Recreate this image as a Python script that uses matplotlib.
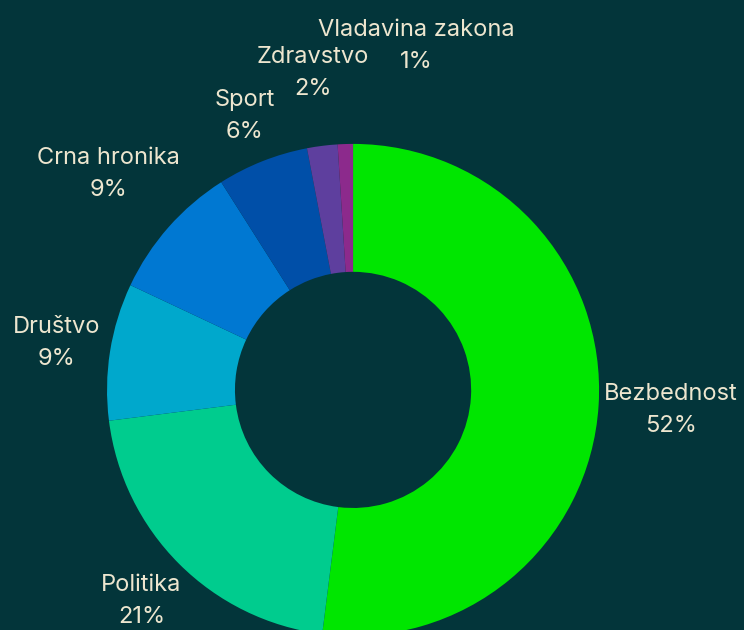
import numpy as np
import matplotlib.pyplot as plt

# podaci
kategorije = ["Bezbednost", "Politika", "Društvo", "Crna hronika", "Sport", "Zdravstvo", "Vladavina zakona"]
procenti = [52, 21, 9, 9, 6, 2, 1]
boje = ["#00e600", "#00cc8e", "#00a8cc", "#0078d2", "#004fa8", "#5e3f9e", "#8c2a8c"]

# razmak labela od centra (u poluprecnicima) i pomak za najmanju kriskicu
razmak = [1.295, 1.216, 1.22, 1.327, 1.196, 1.297, 1.40]
pomak_x = [0, 0, 0, 0, 0, 0, 0.30]

pozadina = "#03353a"
tekst = "#ede6cf"

fig = plt.figure(figsize=(7.44, 6.3), dpi=100, facecolor=pozadina)
ax = fig.add_axes([0, 0, 1, 1])
ax.set_facecolor(pozadina)

wedges, _ = ax.pie(procenti, colors=boje, startangle=90, counterclock=False,
                   radius=1.0, wedgeprops=dict(width=0.52, linewidth=0))

# labele: ime iznad, procenat ispod
ukupno = sum(procenti)
pocetak = 90.0
for i, (ime, p) in enumerate(zip(kategorije, procenti)):
    sredina = pocetak - 360.0 * p / ukupno / 2
    pocetak -= 360.0 * p / ukupno
    ugao = np.deg2rad(sredina)
    x = razmak[i] * np.cos(ugao) + pomak_x[i]
    y = razmak[i] * np.sin(ugao)
    ax.annotate(ime, (x, y), xytext=(0, 11.5), textcoords="offset points",
                ha="center", va="center", color=tekst, fontsize=17, family="Inter")
    ax.annotate(f"{p}%", (x, y), xytext=(0, -11.5), textcoords="offset points",
                ha="center", va="center", color=tekst, fontsize=17, family="Inter")

ax.set_xlim(-1.435, 1.589)
ax.set_ylim(-0.976, 1.585)
ax.set_aspect("auto")
ax.axis("off")

fig.savefig("out.png", dpi=100, facecolor=pozadina)
